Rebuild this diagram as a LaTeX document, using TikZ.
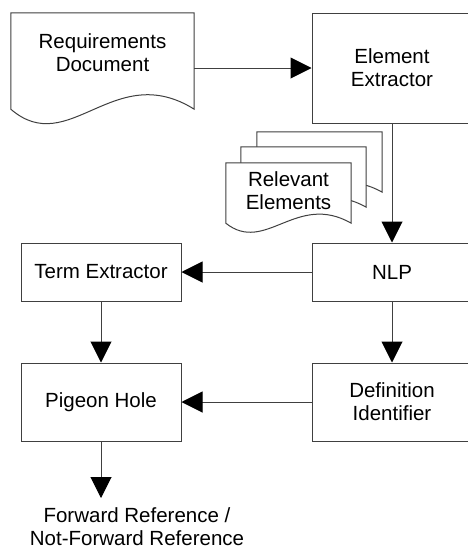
\documentclass[tikz,border=0pt]{standalone}
\usepackage{fontspec}
\setmainfont{Liberation Sans}
\usetikzlibrary{arrows.meta,calc}
\definecolor{edge}{HTML}{404040}
\tikzset{
  base/.style={font=\fontsize{20.5}{23.3}\selectfont, align=center, text=black},
  proc/.style={base, draw=edge, line width=1pt, rectangle, minimum width=160pt, inner sep=0pt},
  docbox/.style={rectangle, draw=none, inner sep=0pt},
  doclabel/.style={base, inner sep=0pt},
  docline/.style={draw=edge, fill=white, line width=1pt},
  flow/.style={draw=edge, line width=1pt, -{Triangle[length=21pt,width=21pt,color=black]}},
}
% Document symbol: flat top and sides, wavy bottom edge, fitted to a named node
\newcommand\docoutline[1]{%
  \path[docline] let \p1=(#1.north west), \p2=(#1.south east), \n1={\y1-\y2} in
    (\p1) -- (\x2,\y1) -- (\p2)
    .. controls ({\x1+0.563*(\x2-\x1)},{\y2+0.52*\n1}) and ({\x1+0.317*(\x2-\x1)},{\y2-0.52*\n1}) .. (\x1,\y2)
    -- cycle;}
\begin{document}
\begin{tikzpicture}[x=1pt,y=-1pt]
  \clip (0,0) rectangle (468,549);
  \fill[white] (0,0) rectangle (468,549);

  % input document
  \node[docbox, minimum width=183pt, minimum height=96pt] (req) at (102.5,61) {};
  \docoutline{req}
  \node[doclabel] (reqlbl) at ([yshift=8pt]req.center) {Requirements\\Document};

  \node[proc, minimum height=110pt] (elem) at (392,68) {Element\\Extractor};

  % stack of extracted documents
  \node[docbox, minimum width=125pt, minimum height=60pt] (relback) at (319.5,162) {};
  \docoutline{relback}
  \node[docbox, minimum width=125pt, minimum height=60pt] (relmid) at (303.5,177) {};
  \docoutline{relmid}
  \node[docbox, minimum width=125pt, minimum height=60pt] (rel) at (288.5,193) {};
  \docoutline{rel}
  \node[doclabel] (rellbl) at ([yshift=2pt]rel.center) {Relevant\\Elements};

  % processing steps
  \node[proc, minimum height=58pt] (nlp) at (392,272) {NLP};
  \node[proc, minimum height=58pt] (term) at (101,272) {Term Extractor};
  \node[proc, minimum height=78pt] (pigeon) at (101,402) {Pigeon Hole};
  \node[proc, minimum height=78pt] (defid) at (392,402) {Definition\\Identifier};

  % output
  \node[doclabel] (fwd) at (137,526.5) {Forward Reference /\\Not-Forward Reference};
  \coordinate (fwdtip) at (101,498);

  % connectors
  \draw[flow] (req.east |- elem.west) -- (elem.west);
  \draw[flow] (elem.south) -- (nlp.north);
  \draw[flow] (nlp.west) -- (term.east);
  \draw[flow] (nlp.south) -- (defid.north);
  \draw[flow] (term.south) -- (pigeon.north);
  \draw[flow] (defid.west) -- (pigeon.east);
  \draw[flow] (pigeon.south) -- (fwdtip);
\end{tikzpicture}
\end{document}
